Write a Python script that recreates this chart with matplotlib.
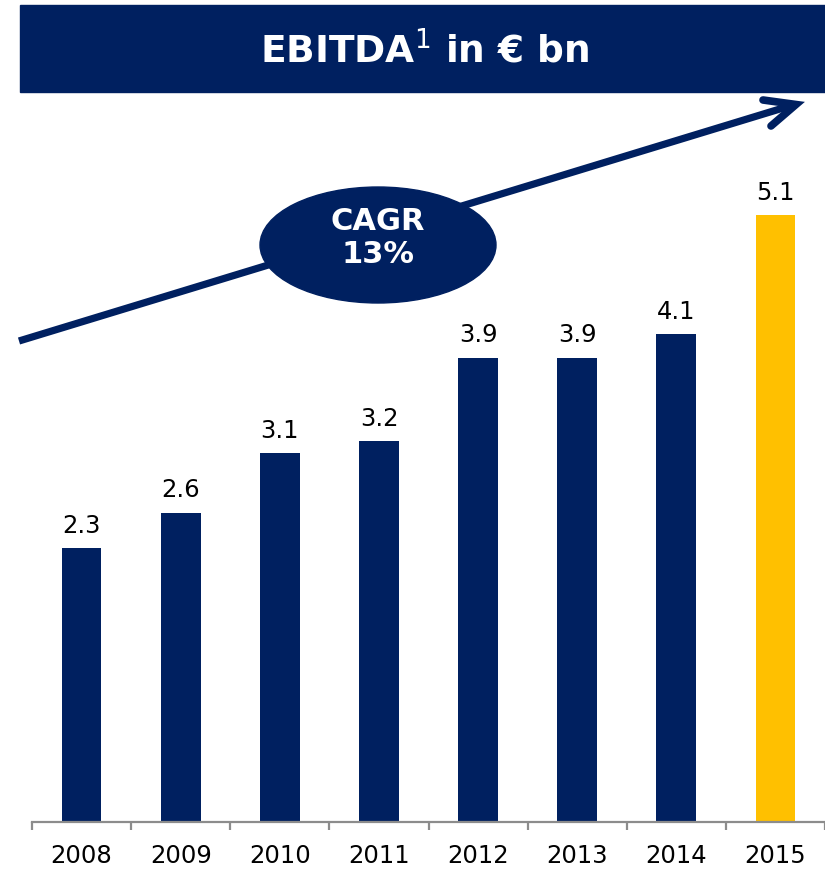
import matplotlib
matplotlib.use("Agg")
import matplotlib.pyplot as plt
from matplotlib.patches import Rectangle, Ellipse

years = ["2008", "2009", "2010", "2011", "2012", "2013", "2014", "2015"]
values = [2.3, 2.6, 3.1, 3.2, 3.9, 3.9, 4.1, 5.1]
value_labels = ["2.3", "2.6", "3.1", "3.2", "3.9", "3.9", "4.1", "5.1"]
title_text = r"EBITDA$^{1}$ in € bn"
cagr_text = "CAGR\n13%"

NAVY = "#002060"
GOLD = "#FFC000"
colors = [NAVY] * 7 + [GOLD]

W, H = 825, 873
fig = plt.figure(figsize=(W / 100, H / 100), dpi=100)

# main axes: baseline at y=822 px, left boundary at x=32 px
ax_left = 32 / W
ax_bottom = (H - 822) / H
ax = fig.add_axes([ax_left, ax_bottom, 1 - ax_left, 1 - ax_bottom])
px_per_unit = 119.0
ax.set_ylim(0, 822 / px_per_unit)
ax.set_xlim(-0.5, len(years) - 0.5)

x = list(range(len(years)))
ax.bar(x, values, width=0.40, color=colors, zorder=2)
for xi, v, lab in zip(x, values, value_labels):
    ax.annotate(lab, (xi, v), xytext=(0, 7.5), textcoords="offset points",
                ha="center", va="bottom", fontsize=17.5, color="black")

for s in ["top", "right", "left"]:
    ax.spines[s].set_visible(False)
ax.spines["bottom"].set_color("#8c8c8c")
ax.spines["bottom"].set_linewidth(1.6)
ax.set_yticks([])
ax.set_xticks(x)
ax.set_xticklabels(years, fontsize=17.5)
ax.tick_params(axis="x", which="major", length=0, pad=16)
ax.set_xticks([i - 0.5 for i in range(len(years) + 1)], minor=True)
ax.tick_params(axis="x", which="minor", length=6, width=1.6, color="#8c8c8c")
ax.patch.set_visible(False)

# overlay in pixel coordinates for decorations
ov = fig.add_axes([0, 0, 1, 1], zorder=5)
ov.set_xlim(0, W)
ov.set_ylim(H, 0)
ov.axis("off")
ov.patch.set_visible(False)

ov.add_patch(Rectangle((20, 5), W - 20, 87, color=NAVY, zorder=1))
ov.text((20 + W) / 2 + 2, 51, title_text, color="white", fontsize=27,
        fontweight="bold", ha="center", va="center", zorder=2)

ov.plot([19, 793], [341, 105], color=NAVY, lw=5.2, solid_capstyle="butt", zorder=1)
ov.plot([763, 796, 771], [100, 104.5, 126], color=NAVY, lw=5.5,
        solid_capstyle="round", solid_joinstyle="miter", zorder=1)

ov.add_patch(Ellipse((378, 245), 236, 116, color=NAVY, zorder=3))
ov.text(378, 238, cagr_text, color="white", fontsize=22, fontweight="bold",
        ha="center", va="center", linespacing=1.2, zorder=4)

fig.savefig("out.png", dpi=100)
